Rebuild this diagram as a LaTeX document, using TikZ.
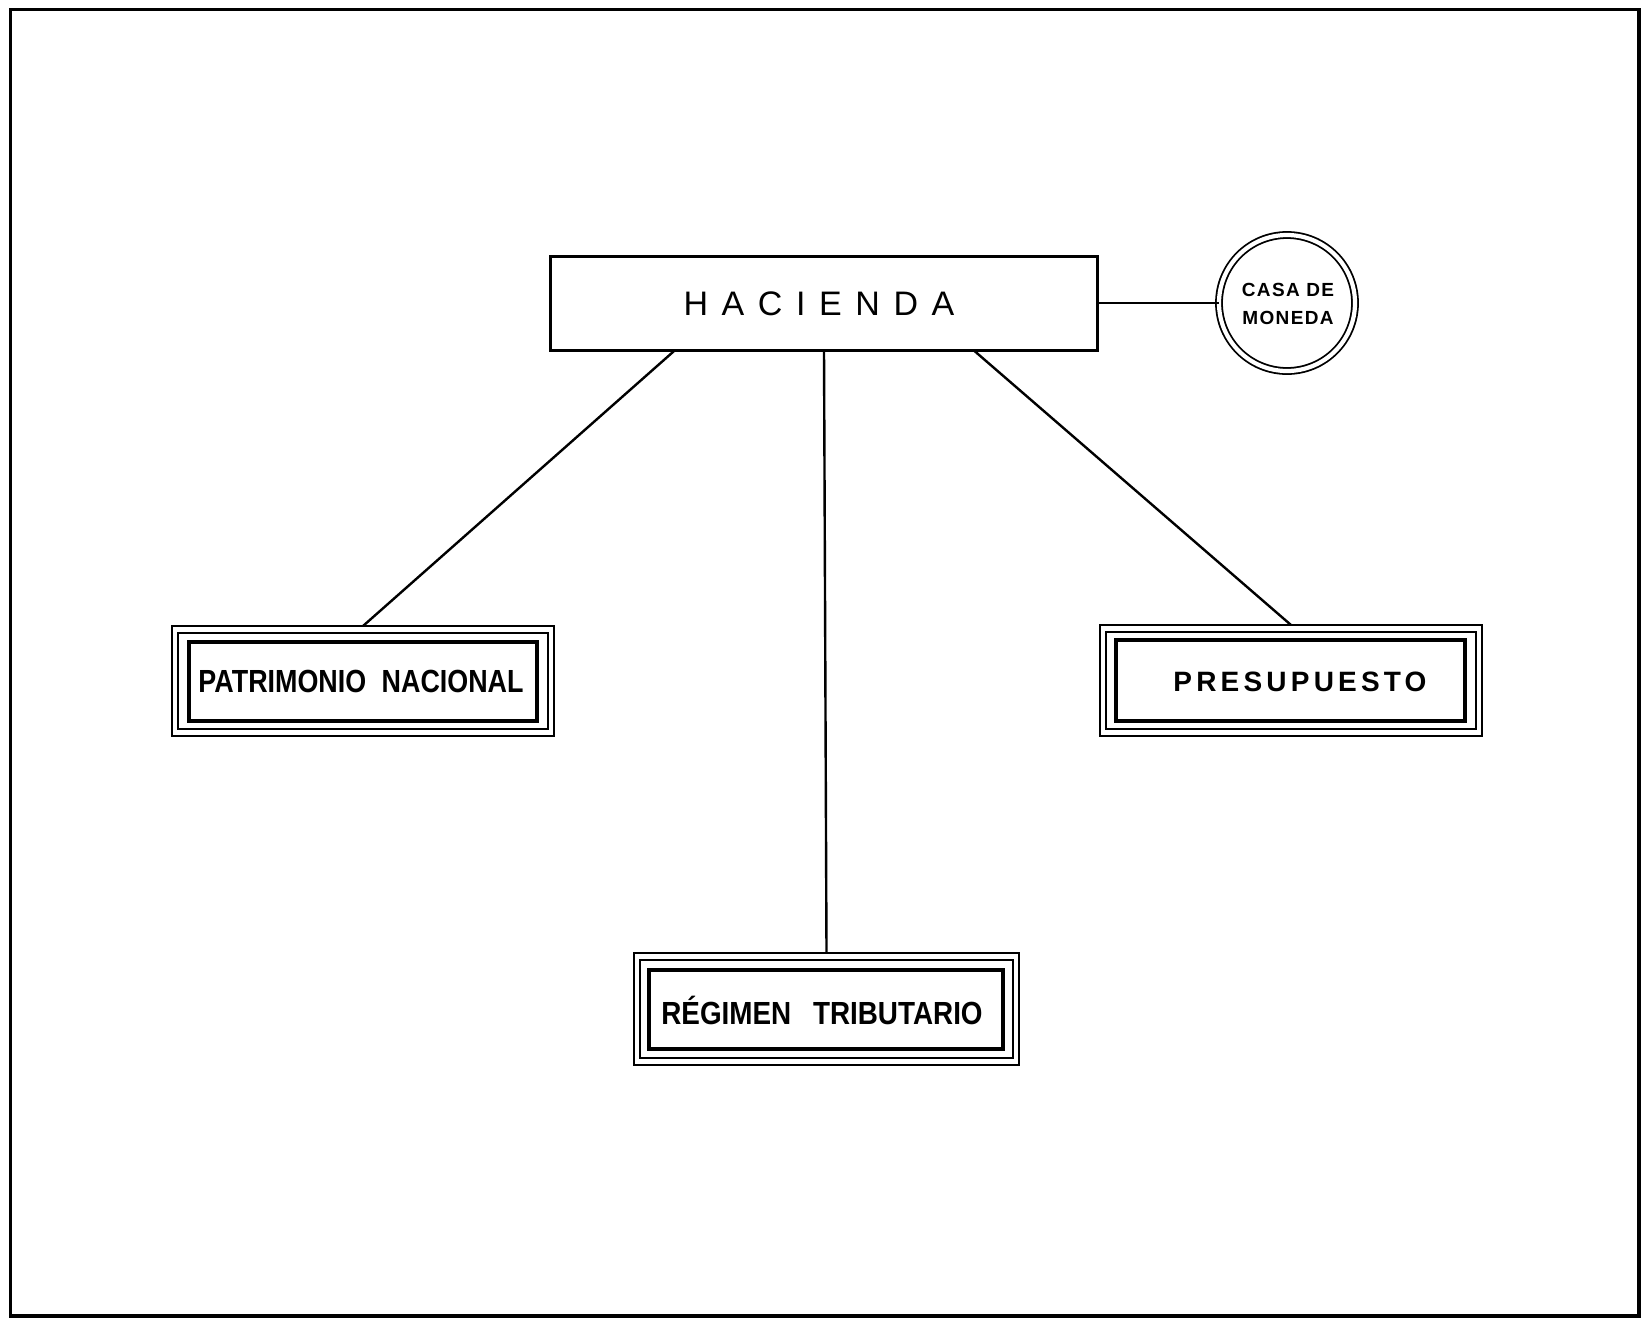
\documentclass[tikz,border=0pt]{standalone}
\usepackage{fontspec}
\usetikzlibrary{calc}
\setmainfont{Liberation Sans}
\newfontfamily\hacfont{Liberation Sans}[LetterSpace=40]
\newfontfamily\boxfont{Liberation Sans}[FakeStretch=0.84]
\newfontfamily\rtfont{Liberation Sans}[FakeStretch=0.87]
\newfontfamily\presfont{Liberation Sans}[LetterSpace=15]
\newfontfamily\casafont{Liberation Sans}[LetterSpace=7]
\begin{document}
\begin{tikzpicture}[x=1pt,y=-1pt,
  frame/.style={line width=3.5pt},
  mainbox/.style={draw, line width=3pt, rectangle, minimum width=547pt, minimum height=94pt, outer sep=0pt, inner sep=0pt},
  coin/.style={draw, circle, double, line width=1.8pt, double distance=4.2pt, minimum size=136pt, inner sep=0pt, outer sep=0pt, align=center},
  outerbox/.style={draw, line width=1.2pt, rectangle, outer sep=0pt, inner sep=0pt},
  midbox/.style={line width=1.4pt},
  innerbox/.style={line width=3.4pt},
  link/.style={line width=2.4pt},
  lbl/.style={font=\boxfont\bfseries\fontsize{32}{32}\selectfont}
]
\useasboundingbox (0,0) rectangle (1641,1318);
\draw[frame] (10.5,1316) -- (10.5,9.5) -- (1639,9.5) -- (1639,1316) -- cycle;

\node[mainbox] (hac) at (824,303) {};
\node[font=\hacfont\fontsize{34}{34}\selectfont] (hactext) at (819,303.5) {HACIENDA};

\node[coin] (casa) at (1287,303) {};
\node[font=\casafont\bfseries\fontsize{19}{28}\selectfont, align=center] (casatext) at (1288,304) {CASA DE\\MONEDA};

% Patrimonio nacional
\node[outerbox, minimum width=382pt, minimum height=110pt] (pn) at (363,681) {};
\draw[midbox] ([shift={(6,7)}]pn.north west) rectangle ([shift={(-6,-7)}]pn.south east);
\draw[innerbox] ([shift={(17,16)}]pn.north west) rectangle ([shift={(-17,-15)}]pn.south east);
\node[lbl] (pntext) at (361,681) {PATRIMONIO\hspace{8pt} NACIONAL};

% Presupuesto
\node[outerbox, minimum width=382pt, minimum height=111pt] (pr) at (1291,680.5) {};
\draw[midbox] ([shift={(6,7)}]pr.north west) rectangle ([shift={(-6,-7)}]pr.south east);
\draw[innerbox] ([shift={(16,15)}]pr.north west) rectangle ([shift={(-17,-15)}]pr.south east);
\node[font=\presfont\bfseries\fontsize{28}{28}\selectfont] (prtext) at (1300,682) {PRESUPUESTO};

% Regimen tributario
\node[outerbox, minimum width=385pt, minimum height=112pt] (rt) at (826.5,1009) {};
\draw[midbox] ([shift={(6,7)}]rt.north west) rectangle ([shift={(-6,-7)}]rt.south east);
\draw[innerbox] ([shift={(15,17)}]rt.north west) rectangle ([shift={(-16,-16)}]rt.south east);
\node[font=\rtfont\bfseries\fontsize{32}{32}\selectfont] (rttext) at (822,1010) {RÉGIMEN\hspace{14pt} TRIBUTARIO};

% connectors
\coordinate (hl) at ($(hac.south west)!0.228!(hac.south east)$);
\coordinate (hm) at ($(hac.south west)!0.5!(hac.south east)$);
\coordinate (hr) at ($(hac.south west)!0.773!(hac.south east)$);
\draw[link] (hl) -- (pn.north);
\draw[link] (hm) -- (rt.north);
\draw[link] (hr) -- (pr.north);
\draw[link] (hac.east) -- (casa.west);
\end{tikzpicture}
\end{document}
